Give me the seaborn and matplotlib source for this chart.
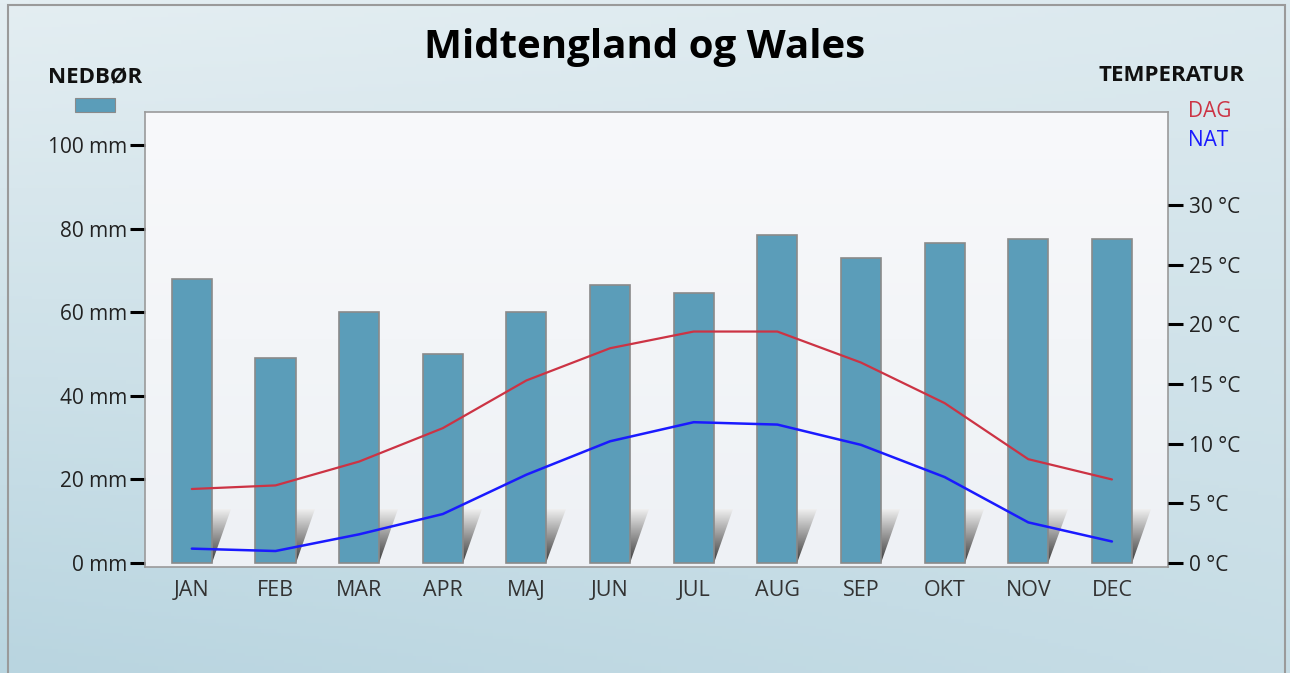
import numpy as np
import pandas as pd
import matplotlib
import matplotlib.pyplot as plt
import seaborn as sns
from matplotlib.patches import Polygon
matplotlib.use('Agg')

months = ['JAN', 'FEB', 'MAR', 'APR', 'MAJ', 'JUN', 'JUL', 'AUG', 'SEP', 'OKT', 'NOV', 'DEC']
rain_mm = [68, 49, 60, 50, 60, 66.5, 64.5, 78.5, 73, 76.5, 77.5, 77.5]
temp_day = [6.2, 6.5, 8.5, 11.3, 15.3, 18.0, 19.4, 19.4, 16.8, 13.4, 8.7, 7.0]
temp_night = [1.2, 1.0, 2.4, 4.1, 7.4, 10.2, 11.8, 11.6, 9.9, 7.2, 3.4, 1.8]
mm_ticks = [0, 20, 40, 60, 80, 100]
deg_ticks = [0, 5, 10, 15, 20, 25, 30]

bar_color = '#5b9db9'
day_color = '#cc3344'
night_color = '#1a1aff'

df = pd.DataFrame({'month': months, 'rain': rain_mm,
                   'day': temp_day, 'night': temp_night})

sns.set_theme(style='white')
plt.rcParams['font.family'] = ['Open Sans', 'DejaVu Sans']

fig = plt.figure(figsize=(12.9, 6.73), dpi=100)

# background gradient for the whole picture
bg = fig.add_axes([0, 0, 1, 1], zorder=-10)
yy, xx = np.mgrid[0:1:200j, 0:1:400j]
shade = 0.55 * yy + 0.25 * (1 - xx) * yy + 0.15 * xx * (1 - yy)
bg_cmap = matplotlib.colors.LinearSegmentedColormap.from_list('bg', ['#e4eef2', '#b9d5e0'])
bg.imshow(shade, cmap=bg_cmap, aspect='auto', extent=[0, 1, 0, 1], origin='upper')
bg.add_patch(plt.Rectangle((0.006, -0.01), 0.99, 1.003, fill=False, ec='#9a9a9a', lw=1.5,
                           transform=bg.transAxes))
bg.set_axis_off()

ax = fig.add_axes([0.1124, 0.1575, 0.793, 0.676])
ax.set_facecolor('none')
# plot area gradient
pa = np.linspace(0, 1, 200)[:, None] * np.ones((1, 400))
pa_cmap = matplotlib.colors.LinearSegmentedColormap.from_list('pa', ['#f8f9fb', '#eef1f5'])

sns.barplot(data=df, x='month', y='rain', color=bar_color, width=0.48,
            edgecolor='#8a8a8a', linewidth=1.2, saturation=1, ax=ax, zorder=3)

xlim = (-0.56, 11.67)
ylim = (-1, 107.9)
ax.imshow(pa, cmap=pa_cmap, aspect='auto', extent=[xlim[0], xlim[1], ylim[0], ylim[1]],
          origin='upper', zorder=0)

# shadow wedges next to each bar
sh_grad = np.linspace(0, 1, 100)[:, None] * np.ones((1, 20))
sh_cmap = matplotlib.colors.LinearSegmentedColormap.from_list('sh', ['#f2f2f2', '#3a3a3a'])
for bar in ax.patches[:len(months)]:
    xr = bar.get_x() + bar.get_width()
    poly = Polygon([(xr, 0), (xr, 13), (xr + 0.23, 13)], closed=True, fc='none', ec='none')
    ax.add_patch(poly)
    im = ax.imshow(sh_grad, cmap=sh_cmap, aspect='auto', extent=[xr, xr + 0.23, 0, 13],
                   origin='upper', zorder=2)
    im.set_clip_path(poly)

ax.set_xlim(*xlim)
ax.set_ylim(*ylim)
ax.set_yticks(mm_ticks)
ax.set_yticklabels([f'{t} mm' for t in mm_ticks])
ax.set_xlabel('')
ax.set_ylabel('')
ax.tick_params(axis='y', length=11, width=2.2, color='black', labelsize=15,
               labelcolor='#222222', pad=2, left=True)
ax.tick_params(axis='x', length=0, labelsize=15.5, labelcolor='#333333', pad=9)
for s in ax.spines.values():
    s.set_color('#9a9a9a')
    s.set_linewidth(1.2)

ax2 = ax.twinx()
sns.lineplot(x=np.arange(len(months)), y=df['day'], color=day_color, lw=1.6, ax=ax2)
sns.lineplot(x=np.arange(len(months)), y=df['night'], color=night_color, lw=1.8, ax=ax2)
ax2.set_ylim(-0.34, 37.8)
ax2.set_xlim(*xlim)
ax2.set_yticks(deg_ticks)
ax2.set_yticklabels([f'{t} °C' for t in deg_ticks])
ax2.set_ylabel('')
ax2.tick_params(axis='y', length=11, width=2.2, color='black', labelsize=15,
                labelcolor='#222222', pad=4, right=True)
for s in ax2.spines.values():
    s.set_visible(False)

fig.text(0.5, 0.93, 'Midtengland og Wales', ha='center', va='center',
         fontsize=29, fontweight='bold', color='black')
fig.text(0.074, 0.884, 'NEDBØR', ha='center', va='center', fontsize=16,
         fontweight='bold', color='#111111')
fig.add_artist(plt.Rectangle((0.058, 0.834), 0.031, 0.021, fc=bar_color, ec='#8a8a8a',
                             lw=0.8, transform=fig.transFigure))
fig.text(0.965, 0.888, 'TEMPERATUR', ha='right', va='center', fontsize=16,
         fontweight='bold', color='#111111')
fig.text(0.921, 0.835, 'DAG', ha='left', va='center', fontsize=15, color=day_color)
fig.text(0.921, 0.791, 'NAT', ha='left', va='center', fontsize=15, color=night_color)

fig.savefig('out.png', dpi=100)
